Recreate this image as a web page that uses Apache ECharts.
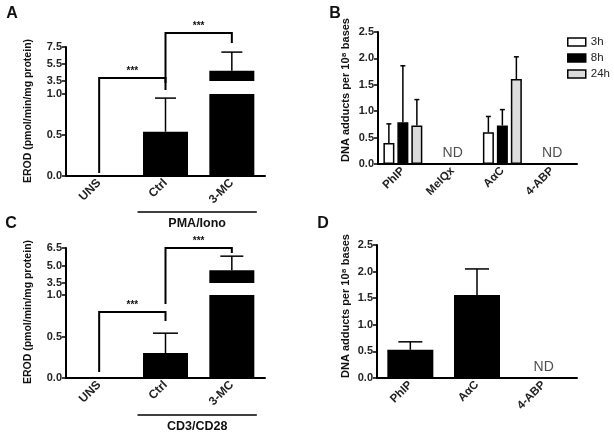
<!DOCTYPE html>
<html>
<head>
<meta charset="utf-8">
<script src="https://cdn.jsdelivr.net/npm/echarts@6/dist/echarts.min.js"></script>
<style>
html, body { margin: 0; padding: 0; background: #fff; }
#chart { width: 614px; height: 437px; }
</style>
</head>
<body>
<div id="chart"></div>
<script>
// EROD 数据 (A: PMA/Iono, C: CD3/CD28)
var erodCats = ['UNS', 'Ctrl', '3-MC'];
var erodA = [0, 0.54, 4.7];
var erodASd = [0, 0.41, 2.2];
var erodC = [0, 0.30, 4.6];
var erodCSd = [0, 0.24, 1.2];
var erodAUpperTicks = [3.5, 5.5, 7.5];
var erodCUpperTicks = [3.5, 5.0, 6.5];
var sigPairs = [[0, 1, '***'], [1, 2, '***']];

// DNA adducts (B: time course, D)
var adductCatsB = ['PhIP', 'MeIQx', 'AαC', '4-ABP'];
var adductTimes = ['3h', '8h', '24h'];
var adduct3h = [0.40, null, 0.60, null];
var adduct8h = [0.79, null, 0.73, null];
var adduct24h = [0.73, null, 1.61, null];
var adduct3hSd = [0.36, null, 0.30, null];
var adduct8hSd = [1.07, null, 0.30, null];
var adduct24hSd = [0.49, null, 0.42, null];

var adductCatsD = ['PhIP', 'AαC', '4-ABP'];
var adductD = [0.53, 1.56, null];
var adductDSd = [0.15, 0.49, null];

var FONT = '"Liberation Sans", Arial, sans-serif';
var TXT = '#222';

var chart = echarts.init(document.getElementById('chart'));

// grid 位置
var grids = [
	{ left: 66, top: 47, width: 199, height: 34 },   // A upper
	{ left: 66, top: 94, width: 199, height: 82 },   // A lower
	{ left: 66, top: 248, width: 199, height: 35 },  // C upper
	{ left: 66, top: 295, width: 199, height: 83 },  // C lower
	{ left: 378, top: 32, width: 199, height: 132 }, // B
	{ left: 377, top: 245, width: 200, height: 133 } // D
];

function xAxisOf(grid, cats, show, size) {
	return {
		type: 'category', gridIndex: grid, data: cats, show: show,
		axisLine: { lineStyle: { color: '#000', width: 2 } },
		axisTick: { alignWithLabel: true, length: 4, lineStyle: { color: '#000', width: 1.5 } },
		axisLabel: { rotate: 45, interval: 0, margin: 5, fontSize: size || 12, fontWeight: 'bold', color: TXT, fontFamily: FONT }
	};
}

function yAxisOf(grid, min, max, interval, custom) {
	var ax = {
		type: 'value', gridIndex: grid, min: min, max: max,
		axisLine: { show: true, lineStyle: { color: '#000', width: 2 } },
		axisTick: { show: true, length: 4, lineStyle: { color: '#000', width: 1.5 } },
		axisLabel: {
			margin: 4, fontSize: 11, fontWeight: 'bold', color: TXT, fontFamily: FONT,
			formatter: function(v) { return v.toFixed(1); }
		},
		splitLine: { show: false }
	};
	if(custom) {
		ax.axisLabel.customValues = custom;
		ax.axisTick.customValues = custom;
	} else {
		ax.interval = interval;
	}
	return ax;
}

// 误差棒 (只画上半部分)
function errSeries(axis, means, sds, ymin, ymax, offset, capW) {
	var data = [];
	means.forEach(function(m, i) {
		if(m != null && sds[i]) data.push([i, m, sds[i]]);
	});
	return {
		type: 'custom', xAxisIndex: axis, yAxisIndex: axis, silent: true, z: 5,
		data: data,
		renderItem: function(params, api) {
			var i = api.value(0), m = api.value(1), top = m + api.value(2);
			var lo = Math.max(m, ymin), hi = Math.min(top, ymax);
			if(hi <= lo) return;
			var p0 = api.coord([i, lo]), p1 = api.coord([i, hi]);
			var x = p0[0] + offset;
			var st = { stroke: '#000', lineWidth: 1.5 };
			var kids = [{ type: 'line', shape: { x1: x, y1: p0[1], x2: x, y2: p1[1] }, style: st }];
			if(top <= ymax) {
				kids.push({ type: 'line', shape: { x1: x - capW / 2, y1: p1[1], x2: x + capW / 2, y2: p1[1] }, style: st });
			}
			return { type: 'group', children: kids };
		}
	};
}

function barSeries(axis, data, width, name, style) {
	return {
		type: 'bar', name: name, xAxisIndex: axis, yAxisIndex: axis, data: data,
		barWidth: width, barGap: '27%', silent: true,
		itemStyle: style || { color: '#000' }
	};
}

// ND 标记
function ndSeries(axis, cats, lists) {
	var data = [];
	cats.forEach(function(c, i) {
		if(lists.every(function(l) { return l[i] == null; })) data.push([c, 0]);
	});
	return {
		type: 'scatter', xAxisIndex: axis, yAxisIndex: axis, data: data, silent: true,
		symbolSize: 1, itemStyle: { color: 'rgba(0,0,0,0)' },
		label: { show: true, position: 'top', distance: 3, formatter: 'ND', fontSize: 14, color: TXT, fontFamily: FONT }
	};
}

var bw = 11, bgap = 3;
var offB = bw + bgap;
var whiteBar = { color: '#fff', borderColor: '#000', borderWidth: 1.5 };
var greyBar = { color: '#dcdcdc', borderColor: '#000', borderWidth: 1.5 };

var option = {
	animation: false,
	backgroundColor: '#fff',
	textStyle: { fontFamily: FONT },
	grid: grids,
	legend: {
		data: adductTimes, orient: 'vertical', left: 567, top: 36, padding: 0,
		itemWidth: 18, itemHeight: 8, itemGap: 4, icon: 'rect',
		itemStyle: { borderColor: '#000', borderWidth: 1.5 },
		textStyle: { fontSize: 11.5, color: TXT, fontFamily: FONT }
	},
	xAxis: [
		xAxisOf(0, erodCats, false),
		xAxisOf(1, erodCats, true),
		xAxisOf(2, erodCats, false),
		xAxisOf(3, erodCats, true),
		xAxisOf(4, adductCatsB, true, 11.5),
		xAxisOf(5, adductCatsD, true, 11.5)
	],
	yAxis: [
		yAxisOf(0, 3.5, 7.5, null, erodAUpperTicks),
		yAxisOf(1, 0, 1, 0.5),
		yAxisOf(2, 3.5, 6.5, null, erodCUpperTicks),
		yAxisOf(3, 0, 1, 0.5),
		yAxisOf(4, 0, 2.5, 0.5),
		yAxisOf(5, 0, 2.5, 0.5)
	],
	series: [
		barSeries(0, erodA, 45),
		barSeries(1, erodA, 45),
		errSeries(0, erodA, erodASd, 3.5, 7.5, 0, 21),
		errSeries(1, erodA, erodASd, 0, 1, 0, 21),
		barSeries(2, erodC, 45),
		barSeries(3, erodC, 45),
		errSeries(2, erodC, erodCSd, 3.5, 6.5, 0, 23),
		errSeries(3, erodC, erodCSd, 0, 1, 0, 25),
		barSeries(4, adduct3h, bw, '3h', whiteBar),
		barSeries(4, adduct8h, bw, '8h', { color: '#000', borderColor: '#000', borderWidth: 1.5 }),
		barSeries(4, adduct24h, bw, '24h', greyBar),
		errSeries(4, adduct3h, adduct3hSd, 0, 2.5, -offB, 5),
		errSeries(4, adduct8h, adduct8hSd, 0, 2.5, 0, 5),
		errSeries(4, adduct24h, adduct24hSd, 0, 2.5, offB, 5),
		ndSeries(4, adductCatsB, [adduct3h, adduct8h, adduct24h]),
		barSeries(5, adductD, 46),
		errSeries(5, adductD, adductDSd, 0, 2.5, 0, 24),
		ndSeries(5, adductCatsD, [adductD])
	]
};
chart.setOption(option);

// 注释：字母、轴标题、显著性括号、分组线
var g = [];
function txt(x, y, s, size, bold, rot) {
	g.push({
		type: 'text', x: x, y: y, rotation: rot || 0, silent: true,
		style: { text: s, fontSize: size, fontWeight: bold ? 'bold' : 'normal', fill: '#111', fontFamily: FONT, align: 'center', verticalAlign: 'middle' }
	});
}
function seg(x1, y1, x2, y2, w) {
	g.push({ type: 'line', silent: true, shape: { x1: x1, y1: y1, x2: x2, y2: y2 }, style: { stroke: '#000', lineWidth: w || 1.5 } });
}
function px(axis, i) {
	return chart.convertToPixel({ xAxisIndex: axis }, i);
}

txt(12, 14, 'A', 16, true);
txt(335, 14, 'B', 16, true);
txt(11, 224, 'C', 16, true);
txt(323, 224, 'D', 16, true);

txt(28, 111, 'EROD (pmol/min/mg protein)', 10.5, true, Math.PI / 2);
txt(28, 312, 'EROD (pmol/min/mg protein)', 10.5, true, Math.PI / 2);
txt(346, 90, 'DNA adducts per 10⁸ bases', 11, true, Math.PI / 2);
txt(346, 306, 'DNA adducts per 10⁸ bases', 11, true, Math.PI / 2);

// 断轴连接线
seg(grids[0].left, grids[0].top + grids[0].height, grids[1].left, grids[1].top, 2);
seg(grids[2].left, grids[2].top + grids[2].height, grids[3].left, grids[3].top, 2);

// 显著性括号 [左脚, 顶, 右脚]
var bracketsA = [[173, 78, 90], [83, 33, 43]];
var bracketsC = [[372, 312, 321], [304, 248, 253]];
function brackets(axis, ys) {
	sigPairs.forEach(function(p, k) {
		var xa = px(axis, p[0]), xb = px(axis, p[1]), y = ys[k];
		g.push({
			type: 'polyline', silent: true,
			shape: { points: [[xa, y[0]], [xa, y[1]], [xb, y[1]], [xb, y[2]]] },
			style: { stroke: '#000', lineWidth: 2, fill: null }
		});
		txt((xa + xb) / 2, y[1] - 7, p[2], 10, true);
	});
}
brackets(1, bracketsA);
brackets(3, bracketsC);

// 分组线
function groupLine(axis, y, label) {
	var x1 = px(axis, 1) - 28, x2 = px(axis, 2) + 25;
	seg(x1, y, x2, y, 1.5);
	txt((x1 + x2) / 2, y + 12, label, 12.5, true);
}
groupLine(1, 212, 'PMA/Iono');
groupLine(3, 415, 'CD3/CD28');

chart.setOption({ graphic: g });
</script>
</body>
</html>
